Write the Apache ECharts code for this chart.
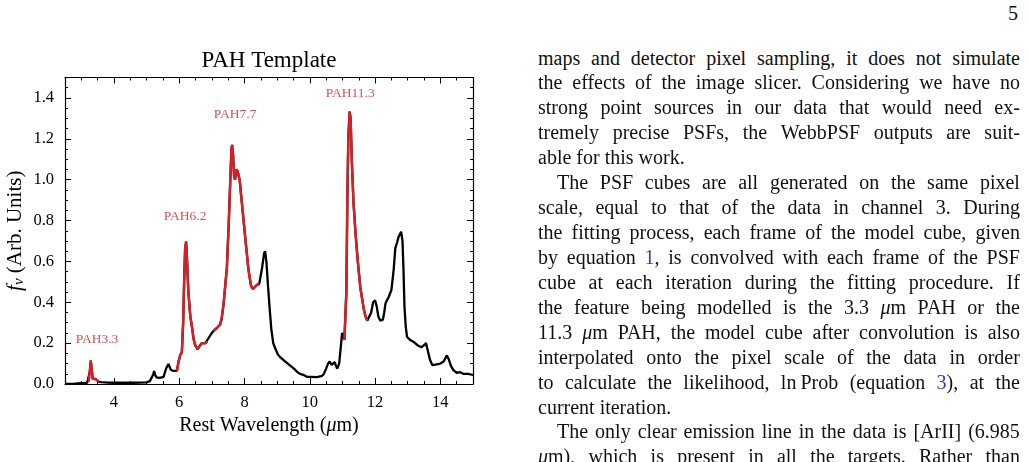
<!DOCTYPE html>
<html><head><meta charset="utf-8">
<script src="https://cdn.jsdelivr.net/npm/echarts@6/dist/echarts.min.js"></script>
<style>
html,body{margin:0;padding:0;background:#fff;}
body{width:1028px;height:462px;overflow:hidden;position:relative;font-family:'Liberation Serif',serif;color:#111;}
#chart{position:absolute;left:0;top:0;width:538px;height:462px;}
.ln{position:absolute;left:538px;width:482px;height:25px;line-height:25px;font-size:20px;white-space:nowrap;}
.ln.j{display:flex;justify-content:space-between;}
.ln.ind{left:557px;width:463px;}
.ln i{font-style:italic;}
.ln u{text-decoration:none;color:#3b3ba6;}
#pg{position:absolute;right:10px;top:1px;font-size:20px;line-height:25px;}
</style></head>
<body>
<div id="chart"></div>
<div id="pg">5</div>
<script>
// ---- data ----
const wavelength = [2.5,2.8,3.0,3.1,3.18,3.23,3.26,3.29,3.32,3.35,3.39,3.43,3.48,3.53,3.6,3.8,4.0,4.3,4.6,4.8,
5.0,5.1,5.16,5.2,5.23,5.26,5.3,5.4,5.52,5.6,5.67,5.74,5.82,5.88,5.93,5.98,6.03,6.08,6.12,6.15,
6.18,6.21,6.24,6.28,6.34,6.39,6.44,6.49,6.56,6.62,6.69,6.75,6.8,6.86,6.92,7.0,7.05,7.15,7.25,7.3,
7.36,7.46,7.52,7.56,7.6,7.62,7.65,7.68,7.71,7.75,7.79,7.85,7.92,8.02,8.12,8.2,8.26,8.32,8.38,8.45,
8.53,8.6,8.63,8.67,8.72,8.77,8.82,8.88,8.94,9.02,9.1,9.25,9.4,9.55,9.62,9.66,9.72,9.8,9.91,10.05,
10.22,10.35,10.42,10.5,10.56,10.61,10.67,10.72,10.76,10.8,10.84,10.9,10.96,10.99,11.02,11.06,11.09,11.12,11.15,11.18,
11.22,11.25,11.29,11.34,11.4,11.45,11.5,11.55,11.6,11.65,11.7,11.76,11.82,11.88,11.94,12.0,12.05,12.1,12.16,12.24,
12.28,12.32,12.42,12.5,12.57,12.62,12.67,12.72,12.8,12.84,12.87,12.9,12.94,12.98,13.08,13.17,13.3,13.42,13.5,13.56,
13.62,13.68,13.75,13.85,14.0,14.1,14.2,14.26,14.32,14.4,14.5,14.6,14.7,14.85,15.0];
const flux = [0.001,0.002,0.004,0.005,0.006,0.012,0.06,0.114,0.07,0.025,0.022,0.025,0.018,0.012,0.009,0.007,0.006,0.007,0.006,0.007,
0.008,0.014,0.022,0.045,0.064,0.045,0.033,0.03,0.035,0.077,0.098,0.07,0.064,0.062,0.065,0.11,0.142,0.155,0.3,0.5,
0.66,0.697,0.6,0.45,0.33,0.28,0.22,0.19,0.17,0.185,0.2,0.195,0.2,0.207,0.23,0.25,0.26,0.274,0.29,0.32,
0.395,0.57,0.8,0.98,1.15,1.17,1.12,1.02,1.0,1.05,1.04,1.0,0.885,0.72,0.56,0.48,0.465,0.475,0.485,0.49,
0.56,0.64,0.65,0.6,0.48,0.37,0.27,0.2,0.175,0.145,0.13,0.11,0.09,0.07,0.058,0.058,0.048,0.045,0.035,0.035,
0.034,0.038,0.046,0.075,0.1,0.11,0.093,0.1,0.108,0.09,0.075,0.1,0.2,0.25,0.24,0.215,0.22,0.45,0.9,1.2,
1.333,1.3,1.08,0.885,0.74,0.64,0.55,0.47,0.42,0.37,0.335,0.31,0.315,0.35,0.4,0.41,0.38,0.33,0.31,0.315,
0.35,0.395,0.427,0.46,0.56,0.665,0.69,0.72,0.745,0.7,0.56,0.38,0.28,0.23,0.215,0.207,0.19,0.18,0.19,0.2,
0.16,0.12,0.093,0.095,0.1,0.11,0.14,0.12,0.09,0.068,0.055,0.058,0.05,0.05,0.044];
const pahRanges = [[3.2,3.58],[5.9,6.9],[7.05,8.45],[11.06,11.76]];
const pahNames = ['PAH3.3','PAH6.2','PAH7.7','PAH11.3'];
const labelWavelength = [3.48,6.18,7.71,11.24];
const labelFlux = [0.22,0.82,1.32,1.42];
const xTickValues = [4,6,8,10,12,14];
const yTickValues = [0,0.2,0.4,0.6,0.8,1.0,1.2,1.4];

const textLines = [
 ['j','maps and detector pixel sampling, it does not simulate'],
 ['j','the effects of the image slicer. Considering we have no'],
 ['j','strong point sources in our data that would need ex-'],
 ['j','tremely precise PSFs, the WebbPSF outputs are suit-'],
 ['l','able for this work.'],
 ['j ind','The PSF cubes are all generated on the same pixel'],
 ['j','scale, equal to that of the data in channel 3. During'],
 ['j','the fitting process, each frame of the model cube, given'],
 ['j','by equation <u>1</u>, is convolved with each frame of the PSF'],
 ['j','cube at each iteration during the fitting procedure. If'],
 ['j','the feature being modelled is the 3.3 <i>μ</i>m PAH or the'],
 ['j','11.3 <i>μ</i>m PAH, the model cube after convolution is also'],
 ['j','interpolated onto the pixel scale of the data in order'],
 ['j','to calculate the likelihood, ln&thinsp;Prob (equation <u>3</u>), at the'],
 ['l','current iteration.'],
 ['j ind','The only clear emission line in the data is [ArII] (6.985'],
 ['j','<i>μ</i>m), which is present in all the targets. Rather than']
];

// ---- text column ----
textLines.forEach(function(l, i){
  const d = document.createElement('div');
  d.className = 'ln ' + l[0];
  d.style.top = (65 + 24.93*i - 19.5) + 'px';
  if (l[0].indexOf('j') === 0) {
    d.innerHTML = l[1].split(' ').map(function(w){return '<span>'+w+'</span>';}).join('');
  } else {
    d.innerHTML = l[1];
  }
  document.body.appendChild(d);
});

// ---- chart ----
const FONT = 'Liberation Serif';
const RED = '#d42026';
const pts = wavelength.map(function(x,i){return [x, flux[i]];});
const redSeries = pahRanges.map(function(r){
  return {
    type:'line', data: pts.filter(function(p){return p[0]>=r[0] && p[0]<=r[1];}),
    showSymbol:false, lineStyle:{color:RED, width:2.5}, itemStyle:{color:RED}, z:3, animation:false, silent:true
  };
});
const frameLine = {show:true, onZero:false, lineStyle:{color:'#000', width:1.2}};
const tickStyle = {color:'#000', width:1};
function majorX(pos, labels){
  return {type:'value', min:2.5, max:15, position:pos, axisLine:frameLine,
    axisTick:{show:true, inside:true, length:6, customValues:xTickValues, lineStyle:tickStyle},
    axisLabel:{show:labels, customValues:xTickValues, margin:10, color:'#000', fontFamily:FONT, fontSize:16.5,
      formatter:function(v){return String(v);}},
    splitLine:{show:false}};
}
function minorX(pos){
  return {type:'value', min:2.5, max:15, interval:0.5, position:pos, axisLine:{show:false, onZero:false},
    axisTick:{show:true, inside:true, length:3, lineStyle:tickStyle}, axisLabel:{show:false}, splitLine:{show:false}};
}
function majorY(pos, labels){
  return {type:'value', min:0, max:1.5, position:pos, axisLine:frameLine,
    axisTick:{show:true, inside:true, length:6, customValues:yTickValues, lineStyle:tickStyle},
    axisLabel:{show:labels, customValues:yTickValues, margin:11, color:'#000', fontFamily:FONT, fontSize:16.5,
      formatter:function(v){return v.toFixed(1);}},
    splitLine:{show:false}};
}
function minorY(pos){
  return {type:'value', min:0, max:1.5, interval:0.05, position:pos, axisLine:{show:false, onZero:false},
    axisTick:{show:true, inside:true, length:3, lineStyle:tickStyle}, axisLabel:{show:false}, splitLine:{show:false}};
}
const xMain = majorX('bottom', true);
xMain.name = 'Rest Wavelength ({i|μ}m)';
xMain.nameLocation = 'middle';
xMain.nameGap = 32;
xMain.nameMoveOverlap = false;
xMain.nameTextStyle = {fontFamily:FONT, fontSize:20, color:'#000', rich:{i:{fontFamily:FONT, fontSize:20, fontStyle:'italic', color:'#000'}}};
const yMain = majorY('left', true);
yMain.name = '{f|f}{nu|ν} (Arb. Units)';
yMain.nameLocation = 'middle';
yMain.nameGap = 38;
yMain.nameMoveOverlap = false;
yMain.nameTextStyle = {fontFamily:FONT, fontSize:21, color:'#000', lineHeight:24, rich:{
  f:{fontFamily:FONT, fontSize:21, fontStyle:'italic', color:'#000', lineHeight:24},
  nu:{fontFamily:FONT, fontSize:15, fontStyle:'italic', color:'#000', verticalAlign:'bottom', lineHeight:24}}};

const chart = echarts.init(document.getElementById('chart'), null, {renderer:'canvas'});
chart.setOption({
  animation:false,
  backgroundColor:'#fff',
  title:{text:'PAH Template', left:'center', top:44,
    textStyle:{fontFamily:FONT, fontSize:23, fontWeight:'normal', color:'#000'}},
  grid:{left:65, top:77.5, width:408, height:306.5, outerBoundsMode:'none', containLabel:false},
  xAxis:[xMain, minorX('bottom'), majorX('top', false), minorX('top')],
  yAxis:[yMain, minorY('left'), majorY('right', false), minorY('right')],
  series:[
    {type:'line', data:pts, showSymbol:false, lineStyle:{color:'#000', width:2.3}, itemStyle:{color:'#000'}, z:2, animation:false, silent:true}
  ].concat(redSeries).concat([
    {type:'scatter', symbolSize:0, z:4, silent:true,
     data: pahNames.map(function(n,i){return {name:n, value:[labelWavelength[i], labelFlux[i]]};}),
     label:{show:true, position:'inside', formatter:'{b}', color:RED, fontFamily:FONT, fontSize:13.5}}
  ])
});
</script>
</body></html>
